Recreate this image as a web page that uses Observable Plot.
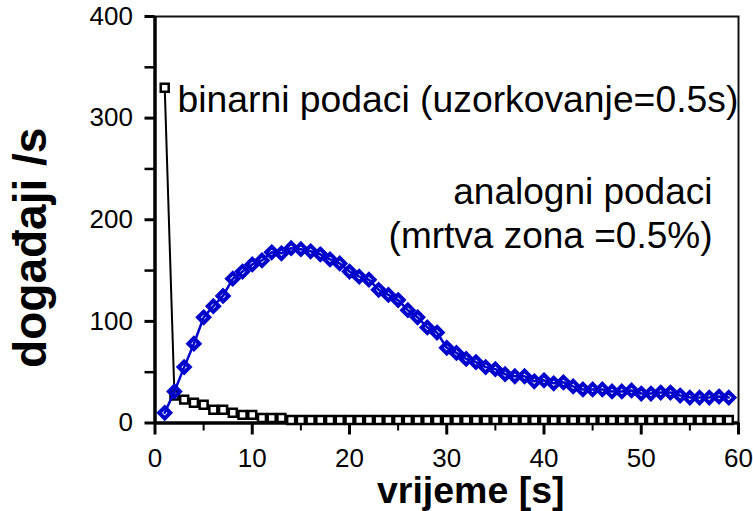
<!DOCTYPE html>
<html><head><meta charset="utf-8">
<script src="https://cdn.jsdelivr.net/npm/d3@7"></script>
<script src="https://cdn.jsdelivr.net/npm/@observablehq/plot@0.6"></script>
<style>
  html,body{margin:0;padding:0;background:#fff}
  #chart{position:absolute;left:0;top:0}
</style>
</head><body><div id="chart"></div>
<script>
// time in seconds
const seconds = [1,2,3,4,5,6,7,8,9,10,11,12,13,14,15,16,17,18,19,20,21,22,23,24,25,26,27,28,29,30,
  31,32,33,34,35,36,37,38,39,40,41,42,43,44,45,46,47,48,49,50,51,52,53,54,55,56,57,58,59];
// analogni podaci (mrtva zona = 0.5%) – events per second
const analogni = [10,31,55,78,104,115,125,142,149,156,160,168,167,172,171,169,166,161,157,149,
  144,141,131,126,121,111,104,94,89,74,69,63,60,55,53,48,46,46,41,42,
  39,40,36,33,33,33,31,31,32,29,29,30,30,27,25,25,25,26,25];
// binarni podaci (uzorkovanje = 0.5s) – events per second
const binarni = [330,27,23,20,18,13,13,10,8,8,5,5,5,3,3,3,3,3,3,3,
  3,3,3,3,3,3,3,3,3,3,3,3,3,3,3,3,3,3,3,3,
  3,3,3,3,3,3,3,3,3,3,3,3,3,3,3,3,3,3,3];
const xTicks = [0,10,20,30,40,50,60];
const xMinorTicks = [5,15,25,35,45,55];
const yTicks = [0,100,200,300,400];
const yMinorTicks = [50,150,250,350];
const xLabel = ["vrijeme [s]"];
const yLabel = ["događaji /s"];
const binLabel = ["binarni podaci (uzorkovanje=0.5s)"];
const anaLabel = ["analogni podaci\n(mrtva zona =0.5%)"];

const analogData = seconds.map((t, i) => ({t, v: analogni[i]}));
const binaryData = seconds.map((t, i) => ({t, v: binarni[i]}));
const blue = "#0000cc";

const chart = Plot.plot({
  width: 753,
  height: 511,
  marginLeft: 154.5,
  marginRight: 15,
  marginTop: 16,
  marginBottom: 88.5,
  style: {fontFamily: "'Liberation Sans', Arial, sans-serif", background: "#fff", color: "#000"},
  x: {domain: [0, 60], axis: null},
  y: {domain: [0, 400], axis: null},
  marks: [
    Plot.frame({stroke: "#111", strokeWidth: 2}),
    Plot.axisY(yTicks, {tickSize: 10, tickPadding: 12, fontSize: 26, strokeWidth: 3, label: null}),
    Plot.axisY(yMinorTicks, {tickSize: 10, strokeWidth: 2.5, tickFormat: () => "", label: null}),
    Plot.axisX(xTicks, {tickSize: 12, tickPadding: 14, fontSize: 26, strokeWidth: 3, label: null}),
    Plot.axisX(xMinorTicks, {tickSize: 8, strokeWidth: 2, tickFormat: () => "", label: null}),
    Plot.ruleX([0], {stroke: "#000", strokeWidth: 3.5}),
    Plot.ruleY([0], {stroke: "#000", strokeWidth: 3.5}),
    Plot.line(binaryData, {x: "t", y: "v", stroke: "#000", strokeWidth: 2}),
    Plot.dot(binaryData, {x: "t", y: "v", symbol: "square", r: 4.5, fill: "#fff", stroke: "#000", strokeWidth: 2.5}),
    Plot.line(analogData, {x: "t", y: "v", stroke: blue, strokeWidth: 2.5}),
    Plot.dot(analogData, {x: "t", y: "v", symbol: "diamond2", r: 5, fill: "none", stroke: blue, strokeWidth: 4}),
    Plot.text(binLabel, {frameAnchor: "top-left", textAnchor: "start", lineAnchor: "top",
      dx: 22.5, dy: 69, fontSize: 37.3, fill: "#000"}),
    Plot.text(anaLabel, {frameAnchor: "top-right", textAnchor: "end", lineAnchor: "top",
      dx: -26, dy: 157, fontSize: 37, lineHeight: 1.17, fill: "#000"}),
    Plot.text(xLabel, {frameAnchor: "bottom", textAnchor: "middle", lineAnchor: "top",
      dx: 24, dy: 53, fontSize: 37.5, fontWeight: "bold", fill: "#000"}),
    Plot.text(yLabel, {frameAnchor: "left", textAnchor: "middle", lineAnchor: "middle", rotate: -90,
      dx: -124, dy: 28, fontSize: 46, fontWeight: "bold", fill: "#000"})
  ]
});
document.getElementById("chart").appendChild(chart);
</script>
</body></html>
